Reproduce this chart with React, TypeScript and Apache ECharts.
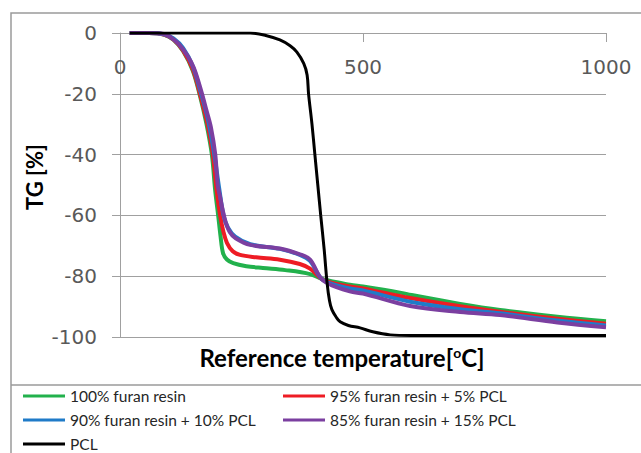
import React, { useEffect, useRef } from 'react';
import * as echarts from 'echarts';

const xTicks = { min: 0, max: 1000, step: 500 };
const yTicks = { min: -100, max: 0, step: 20 };

const seriesNames = [
  '100% furan resin',
  '95% furan resin + 5% PCL',
  '90% furan resin + 10% PCL',
  '85% furan resin + 15% PCL',
  'PCL',
];
const seriesColors = ['#22b14c', '#ee1c24', '#1f7bc8', '#7b3fa0', '#000000'];

const furan100: [number, number][] = [
  [20, 0], [60, 0], [90, -0.5], [110, -2.2], [130, -6], [150, -12.5], [165, -21], [178, -30],
  [189, -40], [196, -52], [202, -60], [207, -67], [212, -72.4], [220, -74.5], [233, -75.7],
  [260, -76.7], [294, -77.3], [340, -78], [391, -79.3], [418, -81], [473, -82.8], [500, -83.4],
  [576, -85.4], [600, -86.2], [700, -89.1], [782, -91.1], [900, -93.3], [1000, -94.8],
];
const furan95: [number, number][] = [
  [20, 0], [60, 0], [90, -0.5], [110, -2.1], [130, -5.8], [150, -12], [166, -21], [180, -30],
  [191, -40], [199, -52], [206, -60], [213, -65.5], [220, -69], [232, -71.8], [247, -73],
  [280, -73.8], [329, -74.6], [370, -76], [391, -77.5], [418, -81.2], [473, -83.4], [500, -84],
  [597, -87.2], [700, -89.9], [782, -91.7], [900, -94], [1000, -95.6],
];
const furan90: [number, number][] = [
  [20, 0], [60, 0], [90, -0.4], [110, -1.8], [130, -5], [150, -11], [167, -20], [181, -28.5],
  [194, -40], [204, -51], [213, -60], [222, -64], [237, -67], [268, -69.5], [329, -71],
  [370, -73], [391, -75], [418, -81.3], [473, -84], [500, -84.7], [597, -88.4], [700, -90.9],
  [782, -92.2], [900, -94.6], [1000, -96.2],
];
const furan85: [number, number][] = [
  [20, 0], [60, 0], [90, -0.3], [105, -1.5], [120, -3.5], [138, -7.3], [152, -11.5], [167, -19],
  [178, -25.5], [187, -31], [196, -40], [201, -50], [206, -54], [211, -58], [217, -62],
  [226, -65.5], [238, -67.5], [268, -69.7], [329, -70.9], [370, -72.8], [391, -74.5],
  [418, -81.4], [473, -85], [500, -85.7], [597, -89.8], [700, -91.8], [782, -92.8],
  [900, -95.2], [1000, -96.8],
];
const pcl: [number, number][] = [
  [20, 0], [150, 0], [268, 0], [300, -0.8], [329, -2.3], [350, -4.2], [364, -6.3], [378, -10],
  [385, -13.8], [388, -20], [395, -30], [401, -40], [407, -50], [413, -60], [420, -71],
  [426, -82], [431, -88], [436, -91], [445, -93.5], [453, -95], [470, -96.2], [494, -97],
  [520, -98.3], [556, -99.3], [600, -99.5], [1000, -99.5],
];
const seriesData = [furan100, furan95, furan90, furan85, pcl];

export default function App() {
  const ref = useRef<HTMLDivElement>(null);
  useEffect(() => {
    const chart = echarts.init(ref.current!, null, { renderer: 'svg' });
    const grayLine = '#a0a0a0';
    const legendText = { color: '#262626', fontFamily: 'Lato', fontSize: 15.5, lineHeight: 18 };
    const legendBase = {
      top: 387,
      orient: 'vertical',
      padding: 0,
      height: 100,
      itemWidth: 42,
      itemHeight: 3,
      itemGap: 6,
      icon: 'rect',
      selectedMode: false,
      textStyle: legendText,
    };
    chart.setOption({
      animation: false,
      backgroundColor: '#ffffff',
      grid: { left: 120, right: 35, top: 33, bottom: 116, containLabel: false },
      xAxis: {
        type: 'value',
        min: xTicks.min,
        max: xTicks.max,
        interval: xTicks.step,
        position: 'top',
        axisLine: { show: true, lineStyle: { color: grayLine, width: 1 } },
        axisTick: { show: true, inside: true, length: 9, lineStyle: { color: grayLine } },
        axisLabel: {
          inside: true,
          margin: 24,
          color: '#595959',
          fontFamily: 'DejaVu Sans',
          fontSize: 20,
          formatter: (v: number) => String(v),
        },
        splitLine: { show: false },
      },
      yAxis: {
        type: 'value',
        min: yTicks.min,
        max: yTicks.max,
        interval: yTicks.step,
        axisLine: { show: true, lineStyle: { color: grayLine, width: 1 } },
        axisTick: { show: true, inside: false, length: 8, lineStyle: { color: grayLine } },
        axisLabel: {
          margin: 23,
          color: '#595959',
          fontFamily: 'DejaVu Sans',
          fontSize: 20,
          formatter: (v: number) => String(v),
        },
        splitLine: { show: true, lineStyle: { color: grayLine, width: 1 } },
      },
      legend: [
        { ...legendBase, left: 23, data: [seriesNames[0], seriesNames[2], seriesNames[4]] },
        { ...legendBase, left: 283, data: [seriesNames[1], seriesNames[3]] },
      ],
      graphic: [
        {
          type: 'rect',
          silent: true,
          shape: { x: 11, y: 13, width: 640, height: 450 },
          style: { fill: 'none', stroke: '#9a9a9a', lineWidth: 1.5 },
          z: -1,
        },
        {
          type: 'line',
          silent: true,
          shape: { x1: 11, y1: 385, x2: 641, y2: 385 },
          style: { stroke: '#9a9a9a', lineWidth: 1.5 },
        },
        {
          type: 'text',
          x: 34,
          y: 177,
          rotation: Math.PI / 2,
          style: {
            text: 'TG [%]',
            fontFamily: 'Lato',
            fontWeight: 'bold',
            fontSize: 22,
            fill: '#000',
            align: 'center',
            verticalAlign: 'middle',
          },
        },
        {
          type: 'text',
          x: 342,
          y: 357,
          style: {
            text: '{a|Reference temperature[}{b|o}{a|C]}',
            align: 'center',
            verticalAlign: 'middle',
            rich: {
              a: { fontFamily: 'Lato', fontWeight: 'bold', fontSize: 24, fill: '#000', color: '#000' },
              b: {
                fontFamily: 'Lato',
                fontWeight: 'bold',
                fontSize: 14,
                fill: '#000',
                color: '#000',
                verticalAlign: 'top',
                padding: [0, 0, 8, 0],
              },
            },
          },
        },
      ],
      series: seriesData.map((d, i) => ({
        name: seriesNames[i],
        type: 'line',
        data: d,
        smooth: 0.35,
        showSymbol: false,
        symbol: 'none',
        color: seriesColors[i],
        lineStyle: { color: seriesColors[i], width: i === 4 ? 3 : 4 },
        z: 2 + i,
      })),
    });
    return () => chart.dispose();
  }, []);
  return <div ref={ref} style={{ position: 'absolute', left: 0, top: 0, width: 641, height: 453 }} />;
}
